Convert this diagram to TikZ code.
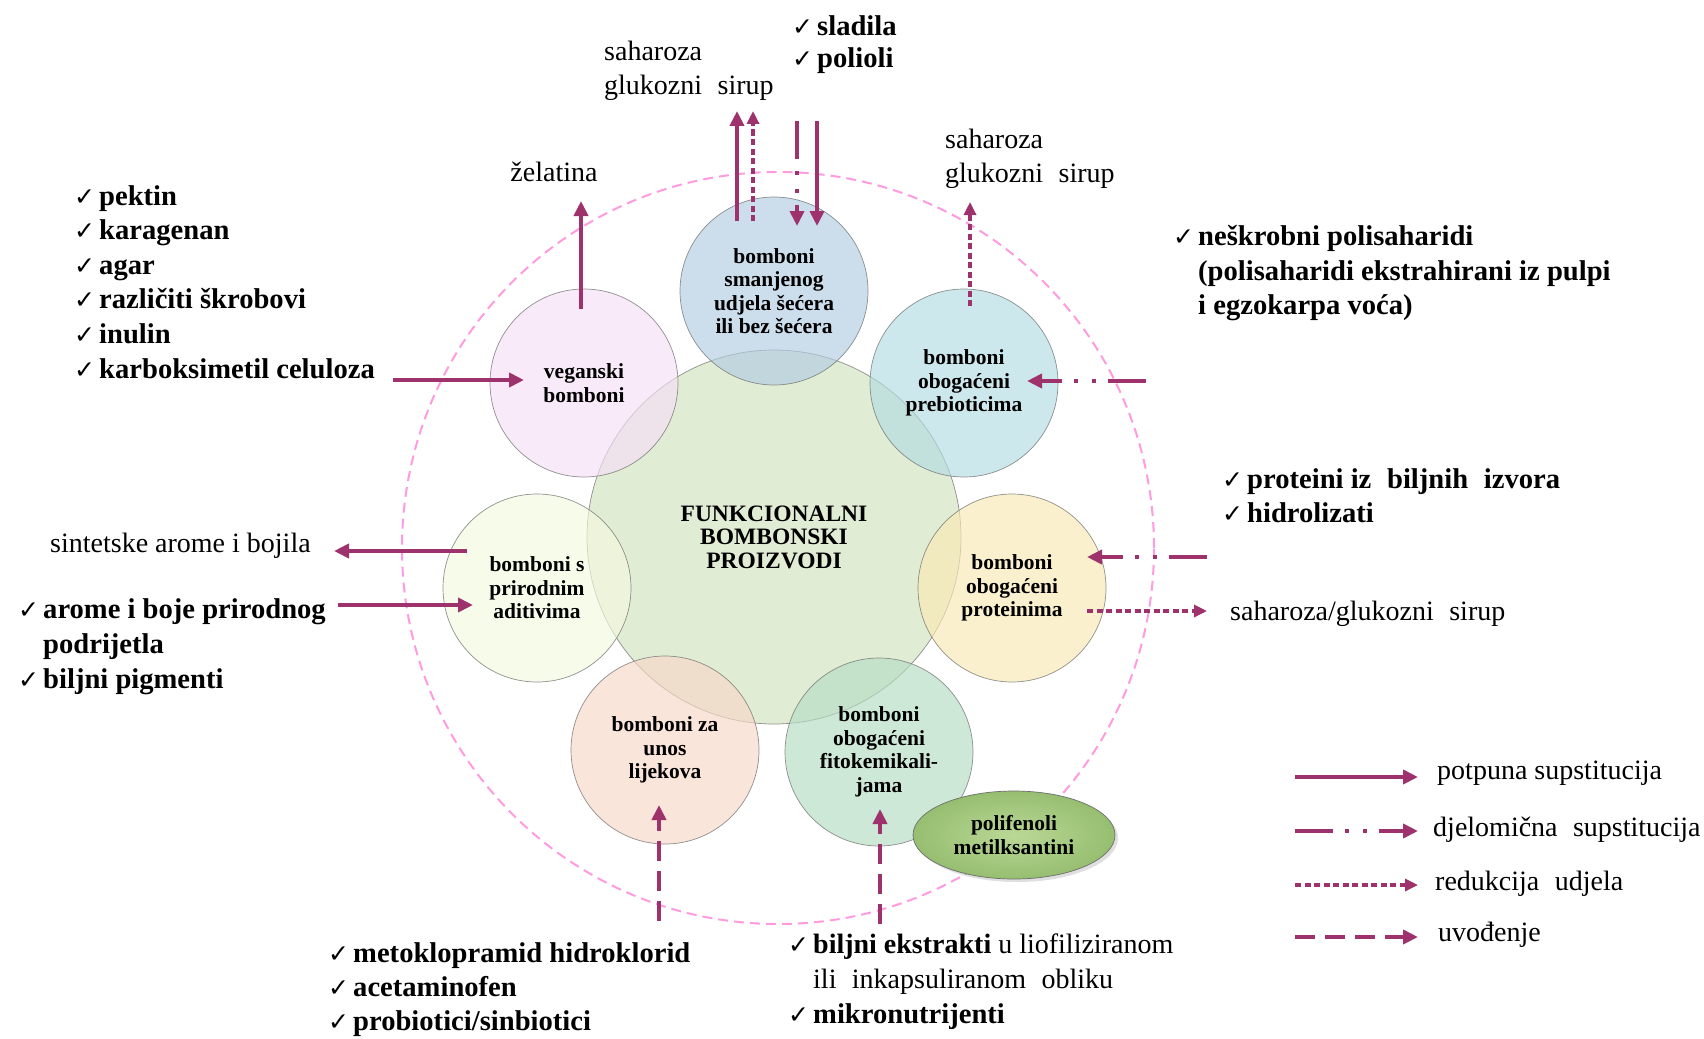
\documentclass[tikz,border=0pt]{standalone}
\usepackage{fontspec}
\setmainfont{Liberation Serif}
\newfontfamily\symf{DejaVu Sans}
\usetikzlibrary{arrows.meta,shapes.geometric,shadows}
\definecolor{arr}{RGB}{158,50,108}
\definecolor{ringc}{RGB}{255,155,222}
\definecolor{cMain}{RGB}{210,227,192}
\definecolor{cTop}{RGB}{177,204,226}
\definecolor{cVeg}{RGB}{247,223,247}
\definecolor{cPre}{RGB}{178,220,226}
\definecolor{cAdi}{RGB}{244,249,223}
\definecolor{cPro}{RGB}{250,233,180}
\definecolor{cLij}{RGB}{247,216,198}
\definecolor{cFit}{RGB}{180,221,195}
\definecolor{edgec}{RGB}{110,110,110}
\definecolor{elIn}{RGB}{186,216,150}
\definecolor{elOut}{RGB}{150,190,112}
\newcommand{\chk}{\makebox[25pt][l]{\symf\fontsize{25}{25}\selectfont ✓}}
\newcommand{\dsp}{\hspace{0.55em}}
\begin{document}
\begin{tikzpicture}[x=1pt,y=-1pt,
  txt/.style={inner sep=0pt, anchor=mid west, yshift=-6pt, font=\fontsize{28}{34}\selectfont},
  btxt/.style={inner sep=0pt, anchor=mid west, yshift=-6pt, font=\fontsize{28.6}{34}\selectfont\bfseries},
  sat/.style={circle, minimum size=188pt, inner sep=0pt, draw=edgec, line width=0.7pt, fill opacity=0.65, draw opacity=0.75, text opacity=1, align=center, font=\fontsize{21.5}{23.5}\selectfont\bfseries},
  arrFull/.style={draw=arr, line width=4pt, -{Triangle[length=15pt,width=14pt]}},
  arrPart/.style={arrFull, dash pattern=on 38pt off 12pt on 4pt off 14pt on 4pt off 12pt},
  arrRedu/.style={draw=arr, line width=3.2pt, dash pattern=on 6pt off 3.5pt, -{Triangle[length=13pt,width=12pt]}},
  arrIntro/.style={arrFull, dash pattern=on 20pt off 10pt}]

\useasboundingbox (0,0) rectangle (1704,1038);
\fill[white] (0,0) rectangle (1704,1038);

% outer dashed ring
\node[circle, minimum size=752pt, inner sep=0pt, draw=ringc, line width=2pt, dash pattern=on 10pt off 6pt] (ring) at (778,548) {};

% central and satellite circles
\node[sat, minimum size=374pt, fill=cMain, font=\fontsize{23.5}{23.5}\selectfont\bfseries] (main) at (774,537) {FUNKCIONALNI\\BOMBONSKI\\PROIZVODI};
\node[sat, fill=cTop] (top) at (774,291) {bomboni\\smanjenog\\udjela šećera\\ili bez šećera};
\node[sat, fill=cVeg] (veg) at (584,383) {veganski\\bomboni};
\node[sat, fill=cPre] (pre) at (964,383) {bomboni\\obogaćeni\\prebioticima};
\node[sat, fill=cAdi] (adi) at (537,588) {bomboni s\\prirodnim\\aditivima};
\node[sat, fill=cPro] (pro) at (1012,588) {bomboni\\obogaćeni\\proteinima};
\node[sat, fill=cLij] (lij) at (665,750) {bomboni za\\unos\\lijekova};
\node[sat, fill=cFit] (fit) at (879,752) {bomboni\\obogaćeni\\fitokemikali-\\jama};
\node[ellipse, minimum width=202pt, minimum height=88pt, inner sep=0pt, draw=edgec, line width=0.7pt,
      inner color=elIn, outer color=elOut, align=center, font=\fontsize{21.5}{23.5}\selectfont\bfseries,
      drop shadow={opacity=0.25, shadow xshift=3pt, shadow yshift=-3pt}] (poly) at (1014,835) {polifenoli\\metilksantini};

% ---- top texts
\node[txt] (sah1) at (604,52) {saharoza};
\node[txt] (glu1) at (604,86) {glukozni\dsp sirup};
\node[btxt] (sla) at (792,27) {\chk sladila};
\node[btxt] (pol) at (792,59) {\chk polioli};
\coordinate (t1a) at (737,221); \coordinate (t1b) at (737,111);
\coordinate (t2a) at (753,221); \coordinate (t2b) at (753,111);
\coordinate (t3a) at (797,121); \coordinate (t3b) at (797,226);
\coordinate (t4a) at (817,121); \coordinate (t4b) at (817,226);
\draw[arrFull] (t1a) -- (t1b);
\draw[arrRedu] (t2a) -- (t2b);
\draw[arrPart] (t3a) -- (t3b);
\draw[arrFull] (t4a) -- (t4b);

% ---- veganski
\node[txt, anchor=center, yshift=6pt] (zel) at (554,172) {želatina};
\coordinate (z1) at (581,309); \coordinate (z2) at (581,201);
\draw[arrFull] (z1) -- (z2);
\node[btxt] (v1) at (74,197) {\chk pektin};
\node[btxt] (v2) at (74,231) {\chk karagenan};
\node[btxt] (v3) at (74,266) {\chk agar};
\node[btxt] (v4) at (74,300) {\chk različiti škrobovi};
\node[btxt] (v5) at (74,335) {\chk inulin};
\node[btxt] (v6) at (74,370) {\chk karboksimetil celuloza};
\coordinate (va) at (393,380); \coordinate (vb) at (524,380);
\draw[arrFull] (va) -- (vb);

% ---- prebiotici
\node[txt] (sah2) at (945,140) {saharoza};
\node[txt] (glu2) at (945,174) {glukozni\dsp sirup};
\coordinate (p1) at (970,306); \coordinate (p2) at (970,202);
\draw[arrRedu] (p1) -- (p2);
\node[btxt] (n1) at (1173,237) {\chk neškrobni polisaharidi};
\node[btxt] (n2) at (1198,272) {(polisaharidi ekstrahirani iz pulpi};
\node[btxt] (n3) at (1198,306) {i egzokarpa voća)};
\coordinate (pa) at (1146,381); \coordinate (pb) at (1027,381);
\draw[arrPart] (pa) -- (pb);

% ---- proteini
\node[btxt] (r1) at (1222,480) {\chk proteini iz\dsp biljnih\dsp izvora};
\node[btxt] (r2) at (1222,514) {\chk hidrolizati};
\coordinate (ra) at (1207,557); \coordinate (rb) at (1087,557);
\draw[arrPart] (ra) -- (rb);
\coordinate (rc) at (1087,611); \coordinate (rd) at (1207,611);
\draw[arrRedu] (rc) -- (rd);
\node[txt] (sg) at (1230,612) {saharoza/glukozni\dsp sirup};

% ---- aditivi
\node[txt] (sin) at (50,544) {sintetske arome i bojila};
\coordinate (aa) at (467,551); \coordinate (ab) at (334,551);
\draw[arrFull] (aa) -- (ab);
\node[btxt] (a1) at (18,610) {\chk arome i boje prirodnog};
\node[btxt] (a2) at (43,645) {podrijetla};
\node[btxt] (a3) at (18,680) {\chk biljni pigmenti};
\coordinate (ac) at (338,605); \coordinate (ad) at (473,605);
\draw[arrFull] (ac) -- (ad);

% ---- lijekovi
\coordinate (la) at (659,921); \coordinate (lb) at (659,805);
\draw[arrIntro] (la) -- (lb);
\node[btxt] (m1) at (328,954) {\chk metoklopramid hidroklorid};
\node[btxt] (m2) at (328,988) {\chk acetaminofen};
\node[btxt] (m3) at (328,1022) {\chk probiotici/sinbiotici};

% ---- fitokemikalije
\coordinate (fa) at (880,924); \coordinate (fb) at (880,809);
\draw[arrIntro] (fa) -- (fb);
\node[txt] (b1) at (788,945) {\chk\textbf{biljni ekstrakti} u liofiliziranom};
\node[txt] (b2) at (813,980) {ili\dsp inkapsuliranom\dsp obliku};
\node[btxt] (b3) at (788,1015) {\chk mikronutrijenti};

% ---- legend
\coordinate (g1a) at (1295,777); \coordinate (g1b) at (1418,777);
\coordinate (g2a) at (1295,831); \coordinate (g2b) at (1418,831);
\coordinate (g3a) at (1295,885); \coordinate (g3b) at (1418,885);
\coordinate (g4a) at (1295,937); \coordinate (g4b) at (1418,937);
\draw[arrFull] (g1a) -- (g1b);
\draw[arrPart] (g2a) -- (g2b);
\draw[arrRedu] (g3a) -- (g3b);
\draw[arrIntro] (g4a) -- (g4b);
\node[txt] (g1) at (1437,771) {potpuna supstitucija};
\node[txt] (g2) at (1433,828) {djelomična\dsp supstitucija};
\node[txt] (g3) at (1435,882) {redukcija\dsp udjela};
\node[txt] (g4) at (1438,933) {uvođenje};
\end{tikzpicture}
\end{document}
